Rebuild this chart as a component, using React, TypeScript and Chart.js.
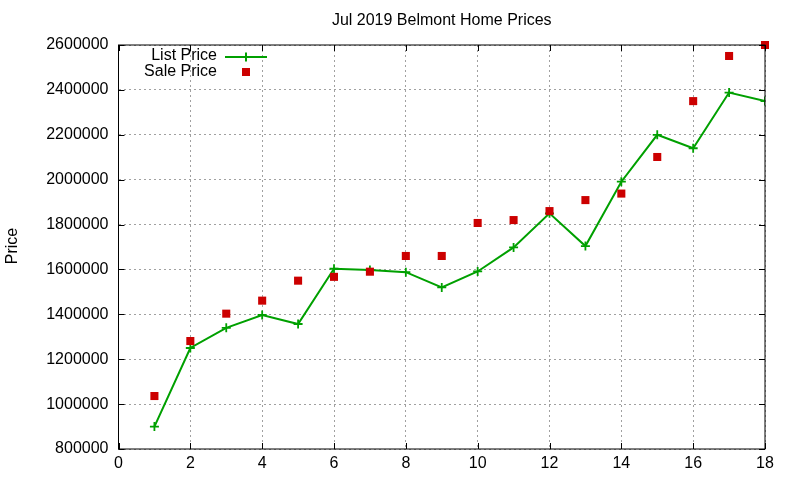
import { useRef, useEffect } from "react";
import Chart from "chart.js/auto";

const days = [1, 2, 3, 4, 5, 6, 7, 8, 9, 10, 11, 12, 13, 14, 15, 16, 17, 18];
const listPrice = [
  900000, 1250000, 1340000, 1397000, 1357000, 1603000, 1598000, 1588000, 1520000,
  1591000, 1698000, 1850000, 1704000, 1991000, 2200000, 2140000, 2388000, 2350000,
];
const salePrice = [
  1036000, 1281000, 1403000, 1461000, 1550000, 1567000, 1590000, 1660000, 1660000,
  1807000, 1820000, 1860000, 1909000, 1938000, 2101000, 2350000, 2551000, 2600000,
];
const xTicks = [0, 2, 4, 6, 8, 10, 12, 14, 16, 18];
const yTicks = [800000, 1000000, 1200000, 1400000, 1600000, 1800000, 2000000, 2200000, 2400000, 2600000];

const FONT = "Liberation Sans, Arial, sans-serif";
const GREEN = "#00a000";
const RED = "#cc0000";

// gnuplot-ish frame, inward ticks, title, y label and legend
const gnuplotDecor = {
  id: "gnuplotDecor",
  afterDraw(chart: any) {
    const { ctx, chartArea: a, scales } = chart;
    const x = scales.x;
    const y = scales.y;
    ctx.save();
    ctx.strokeStyle = "#000";
    ctx.lineWidth = 1;
    ctx.setLineDash([]);
    ctx.strokeRect(a.left, a.top, a.right - a.left, a.bottom - a.top);
    const t = 6;
    ctx.beginPath();
    xTicks.forEach((v) => {
      const px = Math.round(x.getPixelForValue(v)) + 0.5;
      ctx.moveTo(px, a.bottom);
      ctx.lineTo(px, a.bottom - t);
      ctx.moveTo(px, a.top);
      ctx.lineTo(px, a.top + t);
    });
    yTicks.forEach((v) => {
      const py = Math.round(y.getPixelForValue(v)) + 0.5;
      ctx.moveTo(a.left, py);
      ctx.lineTo(a.left + t, py);
      ctx.moveTo(a.right, py);
      ctx.lineTo(a.right - t, py);
    });
    ctx.stroke();

    ctx.fillStyle = "#000";
    ctx.font = `16px ${FONT}`;
    ctx.textBaseline = "middle";
    ctx.textAlign = "center";
    ctx.fillText("Jul 2019 Belmont Home Prices", (a.left + a.right) / 2, 21);

    ctx.save();
    ctx.translate(13, 246);
    ctx.rotate(-Math.PI / 2);
    ctx.fillText("Price", 0, 0);
    ctx.restore();

    // legend
    ctx.textAlign = "right";
    ctx.fillText("List Price", 217, 56);
    ctx.fillText("Sale Price", 217, 72);
    ctx.strokeStyle = GREEN;
    ctx.lineWidth = 2;
    ctx.beginPath();
    ctx.moveTo(225, 57);
    ctx.lineTo(267, 57);
    ctx.moveTo(246, 52.5);
    ctx.lineTo(246, 61.5);
    ctx.stroke();
    ctx.fillStyle = RED;
    ctx.fillRect(242, 68, 8, 8);
    ctx.restore();
  },
};

export default function App() {
  const canvasRef = useRef<HTMLCanvasElement | null>(null);

  useEffect(() => {
    document.body.style.margin = "0";
    if (canvasRef.current == null) return;

    const chart = new Chart(canvasRef.current, {
      type: "scatter",
      data: {
        datasets: [
          {
            label: "Sale Price",
            data: days.map((d, i) => ({ x: d, y: salePrice[i] })),
            showLine: false,
            pointStyle: "rect",
            pointRadius: 5.7,
            pointBackgroundColor: RED,
            pointBorderWidth: 0,
            borderColor: RED,
            clip: false,
            order: 0,
          },
          {
            label: "List Price",
            data: days.map((d, i) => ({ x: d, y: listPrice[i] })),
            showLine: true,
            borderColor: GREEN,
            borderWidth: 2,
            pointStyle: "cross",
            pointRadius: 4.5,
            pointBorderWidth: 1.8,
            pointBorderColor: GREEN,
            order: 1,
          },
        ],
      },
      options: {
        responsive: false,
        animation: false,
        layout: { padding: { top: 45, right: 35, bottom: 0, left: 0 } },
        plugins: {
          legend: { display: false },
          title: { display: false },
          tooltip: { enabled: false },
        },
        scales: {
          x: {
            type: "linear",
            min: 0,
            max: 18,
            afterBuildTicks: (s: any) => {
              s.ticks = xTicks.map((v) => ({ value: v }));
            },
            afterFit: (s: any) => {
              s.height = 31;
              s.paddingLeft = 0;
              s.paddingRight = 0;
            },
            ticks: {
              color: "#000",
              font: { family: FONT, size: 16 },
              padding: 5,
              maxRotation: 0,
              autoSkip: false,
            },
            grid: { color: "#a0a0a0", drawTicks: false, lineWidth: 1 },
            border: { display: false, dash: [2, 3] },
          },
          y: {
            type: "linear",
            min: 800000,
            max: 2600000,
            afterBuildTicks: (s: any) => {
              s.ticks = yTicks.map((v) => ({ value: v }));
            },
            afterFit: (s: any) => {
              s.width = 118.5;
              s.paddingTop = 0;
              s.paddingBottom = 0;
            },
            ticks: {
              color: "#000",
              font: { family: FONT, size: 16 },
              padding: 10,
              autoSkip: false,
              callback: (v: any) => String(v),
            },
            grid: { color: "#a0a0a0", drawTicks: false, lineWidth: 1 },
            border: { display: false, dash: [2, 3] },
          },
        },
      },
      plugins: [gnuplotDecor],
    });

    return () => {
      chart.destroy();
    };
  }, []);

  return (
    <div style={{ width: 800, height: 480, background: "#fff" }}>
      <canvas ref={canvasRef} width={800} height={480}></canvas>
    </div>
  );
}
